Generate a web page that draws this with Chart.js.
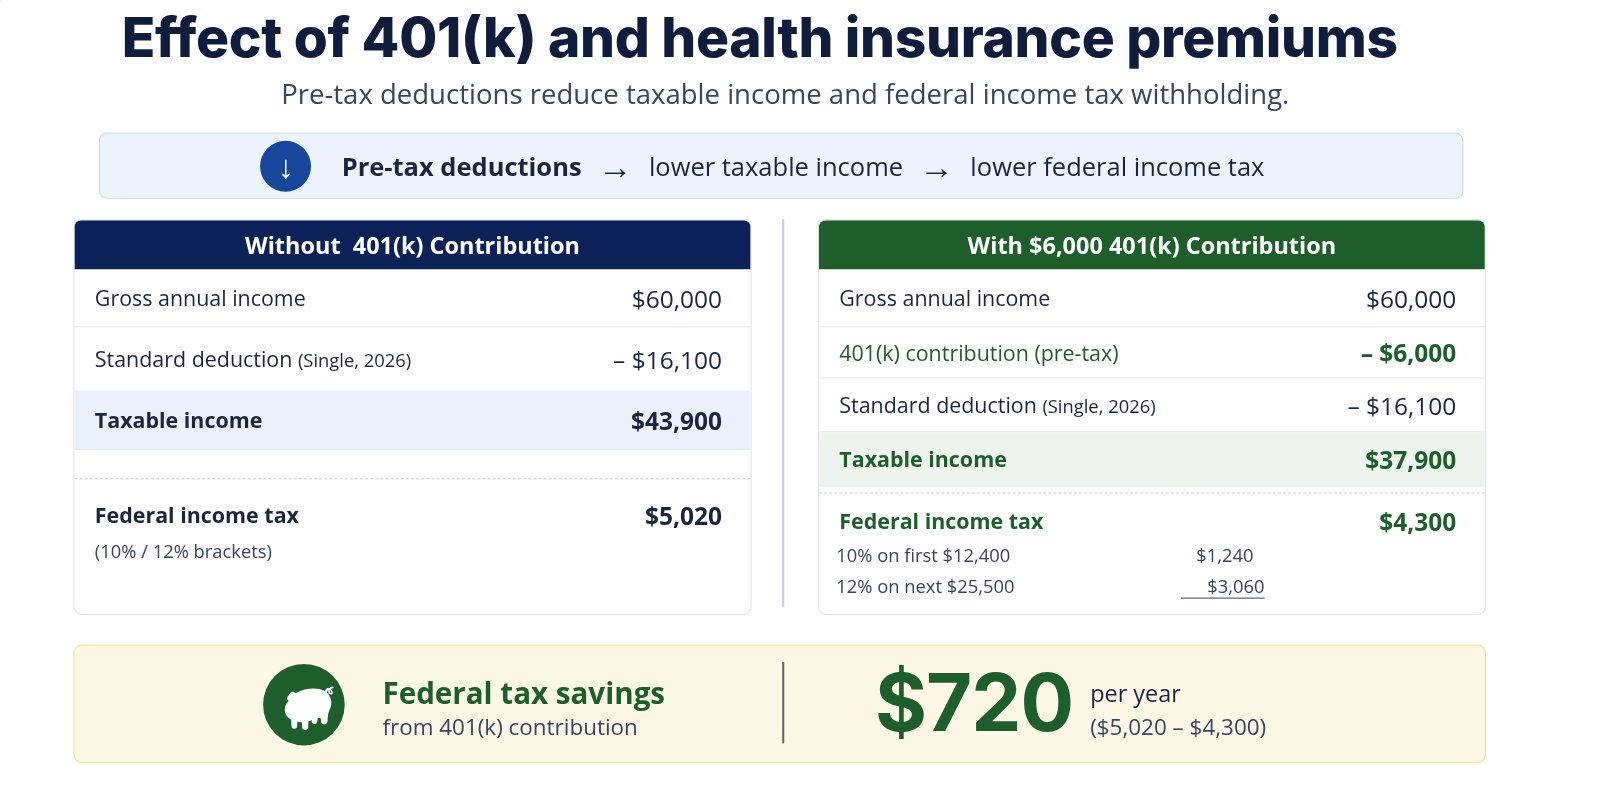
<!DOCTYPE html>
<html><head><meta charset="utf-8">
<script src="https://cdn.jsdelivr.net/npm/chart.js@4"></script>
<style>
html,body{margin:0;overflow:hidden}
body{width:1600px;height:800px;background:#fff;font-family:"Open Sans","Noto Sans",sans-serif;color:#1c2540;position:relative}
#wrap{position:absolute;left:0;top:0;width:1569px;height:784px;transform:scale(1.0198);transform-origin:0 0}
.abs{position:absolute}
h1{position:absolute;left:0;width:1490px;top:4px;margin:0;text-align:center;font:800 54px Inter,"Noto Sans",sans-serif;color:#0f1d3d;letter-spacing:-0.3px}
.sub{left:0;width:1540px;top:73px;text-align:center;font-size:27px;color:#3a4560}
.banner{left:97px;top:130px;width:1338px;height:65px;background:#eef4fd;border:1.5px solid #c5d6ee;border-radius:8px;box-sizing:border-box;font-size:25px;display:flex;align-items:center}
.arr{font-size:34px;margin:0 16px;line-height:1}
.icon{width:50px;height:50px;border-radius:50%;background:#17479a;color:#fff;display:flex;align-items:center;justify-content:center;font-size:32px;font-weight:700;margin-left:157px;margin-right:30px}
.card{border:1.5px solid #dfe3ea;border-radius:8px;background:#fff;box-sizing:border-box;overflow:hidden}
.hdr{height:48px;color:#fff;font-weight:700;font-size:23px;display:flex;align-items:center;justify-content:center}
.row{display:flex;justify-content:space-between;align-items:center;padding:0 28px 0 20px;border-bottom:1px solid #e2e6ec;font-size:21px;box-sizing:border-box}
.row .v{font-size:24px}
.small{font-size:18px}
.bottom{left:72px;top:632px;width:1385px;height:116px;background:#fdf8e6;border:1.5px solid #f0dfa0;border-radius:8px;box-sizing:border-box}
</style></head><body><div id="wrap">
<h1>Effect of 401(k) and health insurance premiums</h1>
<div class="abs sub">Pre-tax deductions reduce taxable income and federal income tax withholding.</div>
<div class="abs banner"><div class="icon">↓</div><b>Pre-tax deductions</b><span class="arr">→</span>lower taxable income<span class="arr">→</span>lower federal income tax</div>
<div class="abs" style="left:767px;top:215px;width:1.5px;height:380px;background:#c8ccd4"></div>
<div id="left" class="abs card" style="left:72px;top:215px;width:665px;height:388px"></div>
<div id="right" class="abs card" style="left:802px;top:215px;width:655px;height:388px"></div>
<div class="abs bottom">
  <div class="abs" style="left:185px;top:18px;width:80px;height:80px;border-radius:50%;background:#1d5e2a"></div>
  <div class="abs" style="left:203px;top:28px;font-size:44px;filter:brightness(0) invert(1)">🐖</div>
  <div class="abs" style="left:302px;top:26px;font-size:29px;font-weight:700;color:#1d5e2a">Federal tax savings</div>
  <div class="abs" style="left:302px;top:64px;font-size:22px;color:#3a4560">from 401(k) contribution</div>
  <div class="abs" style="left:694px;top:16px;width:1.5px;height:80px;background:#666"></div>
  <div id="save" class="abs" style="left:785px;top:8px;font:700 78px Inter,sans-serif;color:#1d5e2a;letter-spacing:-1px"></div>
  <div class="abs" style="left:996px;top:30px;font-size:23px">per year</div>
  <div id="diff" class="abs" style="left:996px;top:64px;font-size:22px;color:#3a4560"></div>
</div>
<canvas id="c" class="abs" style="left:0;top:0;width:1px;height:1px"></canvas>
</div>
<script>
// values
const gross = 60000;
const stdDed = 16100;
const k401 = 6000;
const bracketLimits = [12400, 25500];
const bracketRates = [0.10, 0.12];
const taxWithout = 5020;
const taxWith = 4300;

function fmt(n){ return '$' + n.toLocaleString('en-US'); }
const taxA = gross - stdDed, taxB = gross - k401 - stdDed;
const b1 = bracketLimits[0] * bracketRates[0], b2 = bracketLimits[1] * bracketRates[1];

const navy = '#0c2158', green = '#1d5e2a';
document.getElementById('left').innerHTML =
 `<div class="hdr" style="background:${navy}">Without &nbsp;401(k) Contribution</div>
  <div class="row" style="height:57px">Gross annual income<span class="v">${fmt(gross)}</span></div>
  <div class="row" style="height:63px"><span>Standard deduction <span class="small">(Single, 2026)</span></span><span class="v">– ${fmt(stdDed)}</span></div>
  <div class="row" style="height:57px;background:#eaf1fb;font-weight:700"><span>Taxable income</span><span class="v" style="font-weight:700">${fmt(taxA)}</span></div>
  <div style="height:28px;border-bottom:1.5px dashed #c8ccd4"></div>
  <div class="row" style="height:70px;border:none;font-weight:700"><span>Federal income tax</span><span class="v" style="font-weight:700">${fmt(taxWithout)}</span></div>
  <div style="padding-left:20px;font-size:18px;color:#3a4560;margin-top:-12px">(10% / 12% brackets)</div>`;
document.getElementById('right').innerHTML =
 `<div class="hdr" style="background:${green}">With ${fmt(k401)} 401(k) Contribution</div>
  <div class="row" style="height:57px">Gross annual income<span class="v">${fmt(gross)}</span></div>
  <div class="row" style="height:50px;color:${green}"><span>401(k) contribution (pre-tax)</span><span class="v" style="font-weight:700">– ${fmt(k401)}</span></div>
  <div class="row" style="height:53px"><span>Standard deduction <span class="small">(Single, 2026)</span></span><span class="v">– ${fmt(stdDed)}</span></div>
  <div class="row" style="height:53px;background:#edf4ee;font-weight:700;color:${green}"><span>Taxable income</span><span class="v" style="font-weight:700">${fmt(taxB)}</span></div>
  <div style="height:6px;border-bottom:1.5px dashed #c8ccd4"></div>
  <div class="row" style="height:54px;border:none;font-weight:700;color:${green}"><span>Federal income tax</span><span class="v" style="font-weight:700">${fmt(taxWith)}</span></div>
  <div style="position:relative;height:60px;font-size:18px;color:#3a4560">
   <div style="position:absolute;left:17px;top:-6px">10% on first ${fmt(bracketLimits[0])}</div>
   <div style="position:absolute;left:370px;top:-6px">${fmt(b1)}</div>
   <div style="position:absolute;left:17px;top:24px">12% on next ${fmt(bracketLimits[1])}</div>
   <div style="position:absolute;left:355px;top:24px;width:82px;text-align:right;border-bottom:1.5px solid #3a4560">${fmt(b2)}</div>
  </div>`;
document.getElementById('save').textContent = fmt(taxWithout - taxWith);
document.getElementById('diff').textContent = `(${fmt(taxWithout)} – ${fmt(taxWith)})`;

// the two tax totals kept in a Chart.js instance (not visible in layout)
new Chart(document.getElementById('c'), {
  type: 'bar',
  data: { labels: ['Without', 'With'], datasets: [{ data: [taxWithout, taxWith] }] },
  options: { responsive: false, animation: false, plugins: { legend: { display: false } }, scales: { x: { display: false }, y: { display: false } } }
});
</script>
</body></html>
